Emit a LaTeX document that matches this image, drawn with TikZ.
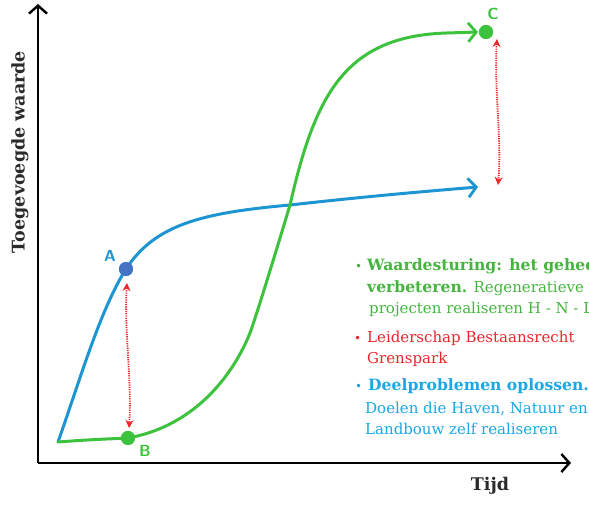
\documentclass[tikz,border=0pt]{standalone}
\usepackage{fontspec}
\setmainfont{DejaVu Serif}
\usetikzlibrary{arrows.meta}
\definecolor{cgreen}{HTML}{3CC23C}
\definecolor{tgreen}{HTML}{45B53F}
\definecolor{cblue}{HTML}{1E95D3}
\definecolor{tblue}{HTML}{1AA7E6}
\definecolor{cred}{HTML}{E8262B}
\definecolor{dotA}{HTML}{4472C4}
\definecolor{axlab}{HTML}{2B2B2B}
\begin{document}
\begin{tikzpicture}[x=1pt,y=-1pt,
  axis/.style={line width=2.4pt,-{Straight Barb[length=8pt,width=18pt,line width=2.4pt]}},
  curve/.style={line width=3pt,line cap=round},
  curvetip/.style={-{Straight Barb[length=8pt,width=19pt,line width=2.8pt]}},
  gap/.style={cred,line width=1.8pt,dash pattern=on 1.2pt off 1.1pt,{Stealth[length=8pt,width=8pt]}-{Stealth[length=8pt,width=8pt]}},
  pt/.style={circle,inner sep=0pt,minimum size=14pt},
  ptlab/.style={font=\fontsize{16}{16}\selectfont\sffamily\bfseries},
  txt/.style={anchor=base west,inner sep=0pt,font=\fontsize{15}{15}\selectfont},
  btxt/.style={anchor=base west,inner sep=0pt,font=\fontsize{15.6}{15.6}\selectfont\bfseries},
  bul/.style={anchor=base west,inner sep=0pt,font=\fontsize{12}{12}\selectfont}]
\useasboundingbox (0,0) rectangle (589,505);
\clip (0,0) rectangle (589,505);
% axes
\coordinate (O) at (38,463);
\coordinate (Ytop) at (38,4);
\coordinate (Xend) at (571,463);
\draw[axis] (O) -- (Ytop);
\draw[axis] (O) -- (Xend);
\node[rotate=90,font=\fontsize{17.5}{17.5}\selectfont\bfseries,text=axlab] (ylab) at (20,152) {Toegevoegde waarde};
\node[font=\fontsize{17.5}{17.5}\selectfont\bfseries,text=axlab] (xlab) at (490,486) {Tijd};
% points
\coordinate (S) at (58,442);
\node[pt,fill=dotA] (A) at (126,269) {};
\node[pt,fill=cgreen] (B) at (128,438) {};
\node[pt,fill=cgreen] (C) at (486,32) {};
\coordinate (Bend) at (478,187);
\coordinate (Gend) at (478,32);
\coordinate (X) at (290,205);
\coordinate (M) at (250,333);
\coordinate (T) at (447,33);
% blue curve
\draw[curve,cblue] (S) .. controls (80,380) and (100,310) .. (A.center);
\draw[curve,cblue,curvetip] (A.center) .. controls (155,225) and (200,213) .. (X) .. controls (370,196) and (430,191) .. (Bend);
% green curve
\draw[curve,cgreen] (S) .. controls (85,440) .. (B.center);
\draw[curve,cgreen,curvetip] (B.center) .. controls (200,425) and (236,368) .. (M)
  .. controls (257,314) and (281,235) .. (X)
  .. controls (315,95) and (345,36) .. (T) -- (Gend);
\node[pt,fill=dotA] at (A) {};
\node[pt,fill=cgreen] at (B) {};
\node[pt,fill=cgreen] at (C) {};
% labels
\node[ptlab,text=cblue] (Alab) at (110,256) {A};
\node[ptlab,text=cgreen] (Blab) at (145,451) {B};
\node[ptlab,text=cgreen] (Clab) at (493,14) {C};
% gaps
\coordinate (g1a) at (127,283);
\coordinate (g1b) at (129,428);
\coordinate (g2a) at (497,39);
\coordinate (g2b) at (498,185);
\draw[gap] (g1a) .. controls (124,330) and (132,380) .. (g1b);
\draw[gap] (g2a) .. controls (494,90) and (502,140) .. (g2b);
% text block
\node[bul,text=tgreen] (b1) at (355,270) {•};
\node[btxt,text=tgreen] (t1) at (367,270) {Waardesturing: het geheel};
\node[anchor=base west,inner sep=0pt,text=tgreen] (t2) at (367,292) {\fontsize{15.6}{15.6}\selectfont\bfseries verbeteren.\fontsize{15}{15}\selectfont\mdseries{} Regeneratieve};
\node[txt,text=tgreen] (t3) at (369,313) {projecten realiseren H - N - L};
\node[bul,text=cred] (b2) at (354,342) {•};
\node[txt,text=cred] (t4) at (367,342) {Leiderschap Bestaansrecht};
\node[txt,text=cred] (t5) at (367,363) {Grenspark};
\node[bul,text=tblue] (b3) at (355,390) {•};
\node[btxt,text=tblue] (t6) at (368,390) {Deelproblemen oplossen.};
\node[txt,text=tblue] (t7) at (365,413) {Doelen die Haven, Natuur en};
\node[txt,text=tblue] (t8) at (365,434) {Landbouw zelf realiseren};
\end{tikzpicture}
\end{document}
